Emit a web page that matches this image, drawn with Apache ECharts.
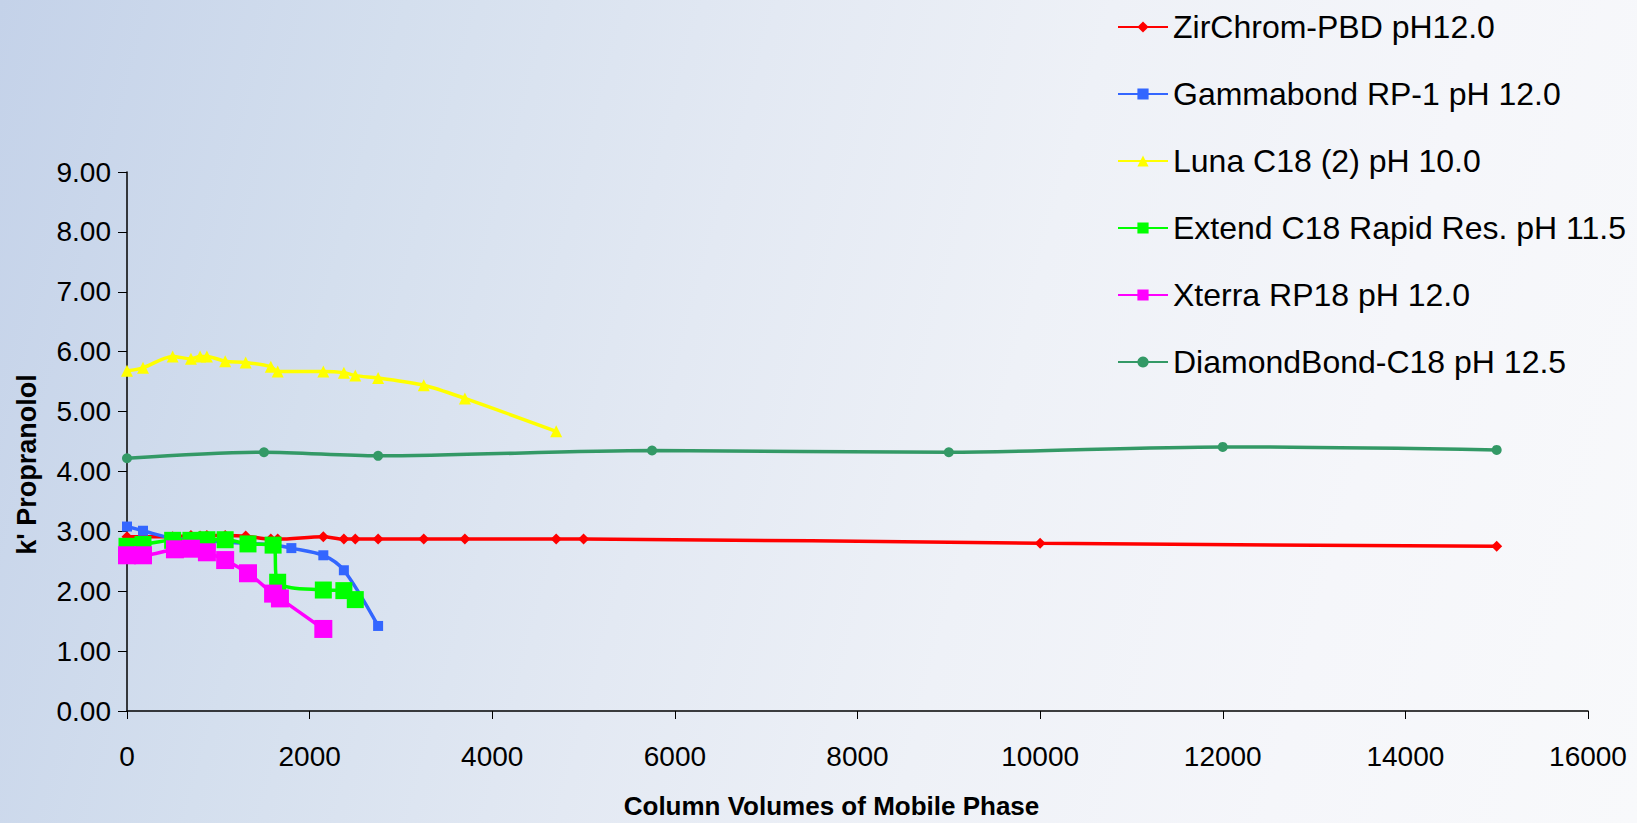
<!DOCTYPE html>
<html>
<head>
<meta charset="utf-8">
<script src="https://cdn.jsdelivr.net/npm/echarts@6/dist/echarts.min.js"></script>
<style>
  html, body { margin: 0; padding: 0; }
  body {
    width: 1637px; height: 823px; overflow: hidden;
    background: linear-gradient(105deg, #c4d2e9 0%, #d4dfee 22%, #e3e9f3 42%, #eef1f7 60%, #f5f6fa 80%, #f8f9fb 100%);
  }
  #container { width: 1637px; height: 823px; }
</style>
</head>
<body>
<div id="container"></div>
<script>
const container = document.getElementById('container');
const chartIns = echarts.init(container, undefined, { renderer: 'svg' });

// series names (legend order)
const names = [
  'ZirChrom-PBD pH12.0',
  'Gammabond RP-1 pH 12.0',
  'Luna C18 (2) pH 10.0',
  'Extend C18 Rapid Res. pH 11.5',
  'Xterra RP18 pH 12.0',
  'DiamondBond-C18 pH 12.5'
];

// [column volumes, k']
const zirchrom = [
  [0, 2.91], [500, 2.91], [700, 2.93], [800, 2.92], [875, 2.93], [1075, 2.93],
  [1300, 2.92], [1575, 2.87], [1650, 2.87], [2150, 2.91], [2375, 2.87],
  [2500, 2.87], [2750, 2.87], [3250, 2.87], [3700, 2.87], [4700, 2.87],
  [5000, 2.87], [10000, 2.80], [15000, 2.75]
];
const gammabond = [
  [0, 3.08], [175, 3.01], [500, 2.88], [700, 2.86], [875, 2.84], [1075, 2.82],
  [1300, 2.80], [1575, 2.78], [1800, 2.72], [2150, 2.60], [2375, 2.35], [2750, 1.42]
];
const luna = [
  [0, 5.68], [175, 5.73], [500, 5.92], [700, 5.88], [800, 5.92], [875, 5.92],
  [1075, 5.84], [1300, 5.82], [1575, 5.75], [1650, 5.67], [2150, 5.67],
  [2375, 5.65], [2500, 5.60], [2750, 5.56], [3250, 5.44], [3700, 5.22], [4700, 4.67]
];
const extend = [
  [0, 2.75], [175, 2.78], [500, 2.85], [700, 2.85], [875, 2.86], [1075, 2.86],
  [1325, 2.79], [1600, 2.77], [1650, 2.15], [2150, 2.02], [2375, 2.01], [2500, 1.86]
];
const xterra = [
  [0, 2.60], [175, 2.60], [525, 2.70], [700, 2.71], [875, 2.65], [1075, 2.52],
  [1325, 2.30], [1600, 1.96], [1675, 1.88], [2150, 1.37]
];
const diamondbond = [
  [0, 4.22], [1500, 4.32], [2750, 4.26], [5750, 4.35], [9000, 4.32],
  [12000, 4.41], [15000, 4.36]
];

const colors = ['#ff0000', '#3366ff', '#ffff00', '#00ff00', '#ff00ff', '#339966'];
const symbols = ['diamond', 'rect', 'triangle', 'rect', 'rect', 'circle'];
const symbolSizes = [11, 10, 12, 17, 18, 10];
const datasets = [zirchrom, gammabond, luna, extend, xterra, diamondbond];

const font = '"Liberation Sans", Arial, sans-serif';

const series = datasets.map(function (d, i) {
  return {
    name: names[i],
    type: 'line',
    data: d,
    smooth: 0.3,
    symbol: symbols[i],
    symbolSize: symbolSizes[i],
    showAllSymbol: true,
    z: 2 + i,
    lineStyle: { color: colors[i], width: 3.5 },
    itemStyle: { color: colors[i], borderWidth: 0 },
    emphasis: { disabled: true }
  };
});

const option = {
  animation: false,
  backgroundColor: 'transparent',
  textStyle: { fontFamily: font },
  legend: {
    orient: 'vertical',
    left: 1112,
    top: 6,
    itemGap: 35,
    itemWidth: 50,
    itemHeight: 14,
    textStyle: { fontSize: 32, color: '#000', fontFamily: font },
    data: names
  },
  grid: { left: 127, right: 49, top: 172, bottom: 112, outerBoundsMode: 'none' },
  xAxis: {
    type: 'value',
    min: 0,
    max: 16000,
    interval: 2000,
    name: 'Column Volumes of Mobile Phase',
    nameLocation: 'middle',
    nameGap: 82,
    nameTextStyle: { fontSize: 26, fontWeight: 'bold', color: '#000', padding: [0, 52, 0, 0] },
    axisLine: { lineStyle: { color: '#000', width: 1.5 } },
    axisTick: { lineStyle: { color: '#000' }, length: 8 },
    axisLabel: {
      fontSize: 28, color: '#000', margin: 31,
      formatter: function (v) { return String(v); }
    },
    splitLine: { show: false }
  },
  yAxis: {
    type: 'value',
    min: 0,
    max: 9,
    interval: 1,
    name: "k' Propranolol",
    nameLocation: 'middle',
    nameGap: 87,
    nameTextStyle: { fontSize: 27, fontWeight: 'bold', color: '#000', padding: [0, 46, 0, 0] },
    axisLine: { show: true, lineStyle: { color: '#000', width: 1.5 } },
    axisTick: { show: true, lineStyle: { color: '#000' }, length: 9 },
    axisLabel: {
      fontSize: 28, color: '#000', margin: 16,
      formatter: function (v) { return v.toFixed(2); }
    },
    splitLine: { show: false }
  },
  series: series
};

chartIns.setOption(option);
</script>
</body>
</html>
